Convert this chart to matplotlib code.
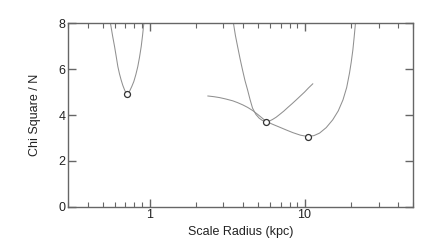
import matplotlib
matplotlib.use("Agg")
import matplotlib.pyplot as plt
from matplotlib.ticker import LogLocator, NullFormatter, FixedLocator, FixedFormatter

plt.rcParams['font.family'] = ['Liberation Sans', 'DejaVu Sans']

# curve with minimum near 0.72 kpc
r_small = [0.555, 0.560, 0.578, 0.595, 0.610, 0.625, 0.640, 0.656, 0.672, 0.690, 0.705, 0.718,
           0.730, 0.745, 0.768, 0.792, 0.816, 0.840, 0.862, 0.884, 0.902, 0.919, 0.925]
chi_small = [8.3, 8.0, 7.45, 6.99, 6.55, 6.11, 5.80, 5.53, 5.30, 5.10, 4.96, 4.91,
             4.94, 5.05, 5.24, 5.46, 5.76, 6.11, 6.52, 6.99, 7.48, 8.0, 8.3]

# steep curve with minimum near 5.6 kpc
r_mid = [3.42, 3.48, 3.58, 3.70, 3.84, 3.98, 4.13, 4.29, 4.45, 4.62, 4.85, 5.10, 5.35, 5.63,
         5.90, 6.20, 6.55, 6.90, 7.35, 7.80, 8.30, 8.84, 9.40, 10.0, 10.6, 11.3]
chi_mid = [8.3, 8.0, 7.48, 6.99, 6.45, 5.97, 5.50, 5.10, 4.68, 4.30, 4.03, 3.86, 3.76, 3.71,
           3.73, 3.80, 3.90, 4.02, 4.17, 4.33, 4.49, 4.66, 4.83, 5.00, 5.18, 5.36]

# broad curve with minimum near 10.5 kpc
r_wide = [2.38, 2.60, 2.83, 3.10, 3.44, 3.70, 4.00, 4.30, 4.64, 5.00, 5.30, 5.66, 6.20, 6.90,
          7.60, 8.41, 9.40, 10.5, 11.5, 12.5, 13.8, 15.2, 16.5, 17.7, 18.7, 19.5, 20.0, 20.5,
          20.9, 21.3, 21.6]
chi_wide = [4.83, 4.80, 4.76, 4.70, 4.62, 4.54, 4.44, 4.33, 4.19, 4.02, 3.88, 3.72, 3.60, 3.47,
            3.35, 3.23, 3.12, 3.06, 3.10, 3.21, 3.45, 3.79, 4.18, 4.66, 5.20, 5.83, 6.30, 6.84,
            7.40, 8.0, 8.4]

# best-fit minima
r_best = [0.718, 5.63, 10.5]
chi_best = [4.91, 3.71, 3.06]

fig = plt.figure(figsize=(4.36, 2.46), dpi=100)
ax = fig.add_axes([0.157, 0.160, 0.790, 0.745])

line_col = '#909090'
ax.plot(r_small, chi_small, color=line_col, lw=0.75)
ax.plot(r_mid, chi_mid, color=line_col, lw=0.75)
ax.plot(r_wide, chi_wide, color=line_col, lw=0.75)
ax.plot(r_best, chi_best, linestyle='none', marker='o', ms=4.3,
        mfc='white', mec='#333333', mew=0.9, zorder=5)

ax.set_xscale('log')
ax.set_xlim(0.3, 50)
ax.set_ylim(0, 8)

ax.xaxis.set_major_locator(FixedLocator([1, 10]))
ax.xaxis.set_major_formatter(FixedFormatter(['1', '10']))
ax.xaxis.set_minor_locator(LogLocator(base=10, subs=range(2, 10)))
ax.xaxis.set_minor_formatter(NullFormatter())
ax.set_yticks([0, 2, 4, 6, 8])

spine_col = '#666666'
for s in ax.spines.values():
    s.set_color(spine_col)
    s.set_linewidth(1.0)
ax.tick_params(which='both', direction='in', top=True, right=True,
               color=spine_col, labelsize=9, labelcolor='#222222', pad=2)
ax.tick_params(which='major', length=6, width=1.0)
ax.tick_params(which='minor', length=3.5, width=0.8)

ax.set_xlabel('Scale Radius (kpc)', fontsize=9, color='#222222', labelpad=3)
ax.set_ylabel('Chi Square / N', fontsize=9, color='#222222', labelpad=13)

fig.savefig('out.png', dpi=100)
